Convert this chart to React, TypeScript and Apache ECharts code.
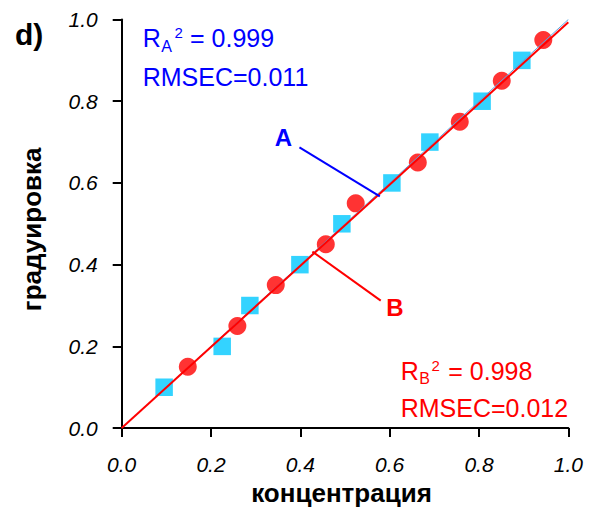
import React, { useEffect, useRef } from "react";
import * as echarts from "echarts";

// Series A (squares): концентрация vs градуировка
const concA = [0.095, 0.225, 0.287, 0.399, 0.493, 0.605, 0.690, 0.807, 0.896];
const gradA = [0.1, 0.2, 0.3, 0.4, 0.5, 0.6, 0.7, 0.8, 0.9];
// Series B (circles)
const concB = [0.148, 0.259, 0.345, 0.457, 0.524, 0.663, 0.757, 0.851, 0.944];
const gradB = [0.15, 0.25, 0.35, 0.45, 0.55, 0.65, 0.75, 0.85, 0.95];
// Fit lines (endpoints)
const fitA = [[0, 0], [1, 1.0]];
const fitB = [[0, 0], [1, 0.993]];
// Callout leader lines
const leaderA = [[0.398, 0.687], [0.578, 0.567]];
const leaderB = [[0.427, 0.432], [0.580, 0.312]];

const FONT = "'Liberation Sans', Arial, sans-serif";
const BLUE = "#0000ff";
const RED = "#ff0000";
const CYAN = "#00c8ff";

export default function App() {
  const ref = useRef<HTMLDivElement>(null);
  useEffect(() => {
    if (!ref.current) return;
    const chart = echarts.init(ref.current, null, { renderer: "svg" });
    const axisCommon = {
      type: "value",
      min: 0,
      max: 1,
      interval: 0.2,
      splitLine: { show: false },
      axisLine: { show: true, onZero: false, lineStyle: { color: "#000", width: 2 } },
      axisTick: { show: true, length: 9, lineStyle: { color: "#000", width: 2 } },
      axisLabel: {
        fontFamily: FONT,
        fontStyle: "italic",
        fontSize: 21,
        color: "#000",
        formatter: (v: number) => v.toFixed(1),
      },
      nameLocation: "middle",
    };
    const nameStyle = { fontFamily: FONT, fontWeight: "bold", fontSize: 26, color: "#000" };
    const txt = (x: number, y: number, text: string, size: number, color: string, opts: any = {}) => ({
      type: "text",
      x,
      y,
      style: {
        text,
        fill: color,
        font: `${opts.bold ? "bold " : ""}${size}px ${FONT}`,
        textAlign: opts.align || "left",
        textVerticalAlign: "middle",
      },
    });
    chart.setOption({
      animation: false,
      backgroundColor: "#fff",
      grid: { left: 121.7, right: 28.7, top: 19.5, bottom: 75, containLabel: false },
      xAxis: {
        ...axisCommon,
        name: "концентрация",
        nameGap: 45,
        nameTextStyle: { ...nameStyle, padding: [0, 7, 0, 0] },
        axisLabel: { ...axisCommon.axisLabel, margin: 26 },
      },
      yAxis: {
        ...axisCommon,
        name: "градуировка",
        nameGap: 76.5,
        nameTextStyle: { ...nameStyle, padding: [0, 11, 0, 0] },
        axisLabel: { ...axisCommon.axisLabel, margin: 24 },
      },
      series: [
        {
          type: "scatter",
          symbol: "rect",
          symbolSize: 17.5,
          itemStyle: { color: CYAN },
          data: concA.map((c, i) => [c, gradA[i]]),
          z: 2,
        },
        {
          type: "scatter",
          symbol: "circle",
          symbolSize: 18,
          itemStyle: { color: RED },
          data: concB.map((c, i) => [c, gradB[i]]),
          z: 3,
        },
        {
          type: "line",
          data: fitA,
          symbol: "none",
          lineStyle: { color: "#5aa6e6", width: 1 },
          z: 4,
        },
        {
          type: "line",
          data: fitB,
          symbol: "none",
          lineStyle: { color: RED, width: 2 },
          z: 5,
        },
        {
          type: "line",
          data: leaderA,
          symbol: "none",
          lineStyle: { color: BLUE, width: 2 },
          z: 5,
        },
        {
          type: "line",
          data: leaderB,
          symbol: "none",
          lineStyle: { color: RED, width: 2 },
          z: 5,
        },
      ],
      graphic: [
        txt(15, 34.6, "d)", 30, "#000", { bold: true }),
        // A block
        txt(142.7, 38, "R", 25, BLUE),
        txt(161.2, 46.8, "A", 16, BLUE),
        txt(174.5, 32.4, "2", 15, BLUE),
        txt(190, 38, "= 0.999", 25, BLUE),
        txt(142.7, 77.3, "RMSEC=0.011", 25, BLUE),
        txt(283.3, 137.4, "A", 24, BLUE, { bold: true, align: "center" }),
        // B block
        txt(400.7, 370.6, "R", 25, RED),
        txt(419.2, 378.5, "B", 16, RED),
        txt(431.5, 365.8, "2", 15, RED),
        txt(448.3, 370.6, "= 0.998", 25, RED),
        txt(400.7, 408, "RMSEC=0.012", 25, RED),
        txt(395, 307.7, "B", 24, RED, { bold: true, align: "center" }),
      ],
    });
    return () => chart.dispose();
  }, []);
  return <div ref={ref} style={{ width: 597, height: 511, position: "absolute", left: 0, top: 0 }} />;
}
